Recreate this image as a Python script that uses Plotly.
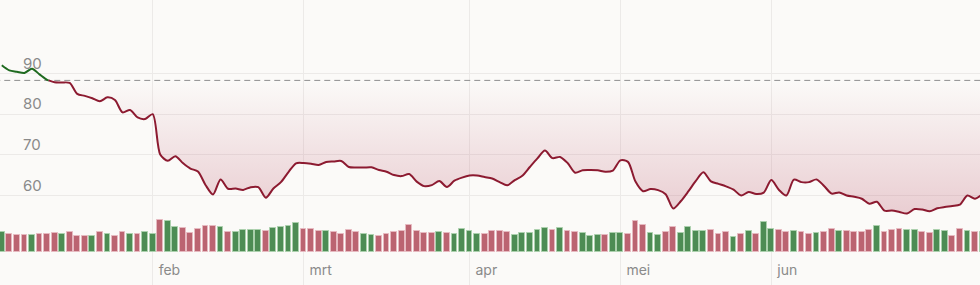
import plotly.graph_objects as go

# ---- data (trading-day index 0..130) ----
price = [
    92.0, 90.74, 90.42, 90.12, 91.16, 89.75, 88.40, 87.83, 87.78, 87.65,
    84.96, 84.49, 83.90, 83.16, 84.12, 83.46, 80.44, 81.04, 79.19, 78.81,
    80.0, 70.12, 68.57, 69.70, 68.02, 66.67, 65.93, 62.64, 60.30, 64.0,
    61.70, 61.75, 61.43, 62.10, 62.10, 59.51, 61.78, 63.33, 65.80, 67.95,
    68.02, 67.83, 67.53, 68.27, 68.40, 68.52, 67.04, 66.91, 66.91, 66.96,
    66.30, 65.88, 65.06, 64.81, 65.31, 63.46, 62.35, 62.59, 63.58, 62.15,
    63.68, 64.44, 64.94, 64.94, 64.57, 64.22, 63.33, 62.54, 63.83, 64.91,
    67.04, 69.14, 71.09, 69.21, 69.51, 68.02, 65.65, 66.25, 66.30, 66.25,
    65.88, 66.17, 68.67, 68.30, 63.46, 61.11, 61.65, 61.36, 60.37, 56.86,
    58.64, 61.04, 63.63, 65.73, 63.51, 62.91, 62.30, 61.48, 60.05, 60.91,
    60.42, 60.74, 63.83, 61.48, 60.05, 63.95, 63.33, 63.33, 64.0, 62.40,
    60.52, 60.81, 60.05, 59.73, 59.26, 58.02, 58.52, 56.35, 56.35, 56.0,
    55.63, 56.72, 56.62, 56.17, 56.91, 57.23, 57.46, 57.80, 60.05, 59.26,
    60.4,
]
volume = [
    58, 53, 51, 51, 49, 52, 53, 56, 54, 58,
    48, 46, 48, 58, 53, 48, 58, 54, 54, 58,
    53, 95, 92, 75, 72, 57, 69, 78, 78, 74,
    59, 59, 65, 65, 65, 61, 72, 73, 78, 85,
    68, 68, 62, 62, 60, 54, 65, 60, 54, 50,
    46, 54, 59, 62, 79, 61, 56, 56, 59, 56,
    52, 68, 62, 54, 53, 63, 62, 59, 51, 55,
    56, 66, 71, 64, 70, 61, 60, 57, 48, 50,
    49, 55, 55, 54, 91, 80, 56, 51, 59, 75,
    55, 75, 62, 62, 64, 54, 58, 44, 54, 61,
    54, 89, 69, 64, 59, 63, 59, 54, 56, 59,
    69, 62, 61, 58, 58, 66, 77, 59, 64, 68,
    65, 65, 59, 57, 64, 61, 47, 68, 62, 59,
    60,
]
direction = list(
    "grrrgrrrgrrrgrgrrgrg"
    "grggrrrrrgrggggrgggg"
    "rrrgrrrrggrrrrrrrrgr"
    "ggggrrrrgggggrgrrggg"
    "rggrrrggrrggggrrrgrg"
    "rggrrgrrgrrgrrrrgrrr"
    "ggrrggrrgrg"
)
month_labels = ["feb", "mrt", "apr", "mei", "jun"]
month_start_idx = [20, 40, 62, 82, 102]
y_ticks = [60, 70, 80, 90]
reference_price = 88.28

# ---- styling ----
BG = "#fbfaf8"
GRID = "#eceae8"
RED_LINE = "#8c1a30"
GREEN_LINE = "#1f6a1f"
FONT = "Inter"

x = list(range(len(price)))

# split line into part above / below reference
cross = None
for i in range(1, len(price)):
    if price[i - 1] >= reference_price > price[i]:
        f = (price[i - 1] - reference_price) / (price[i - 1] - price[i])
        cross = (i - 1 + f, i)
        break
cx, ci = cross
gx = x[:ci] + [cx]
gy = price[:ci] + [reference_price]
rx = [cx] + x[ci:]
ry = [reference_price] + price[ci:]

fill_y = [min(p, reference_price) for p in price]

fig = go.Figure()

# volume bars
bar_fill = ["#bb6471" if d == "r" else "#4d8c54" for d in direction]
bar_edge = ["#e6b9c0" if d == "r" else "#abd0ad" for d in direction]
fig.add_trace(go.Bar(
    x=x, y=volume, yaxis="y2", width=0.77,
    marker=dict(color=bar_fill, line=dict(color=bar_edge, width=1)),
    hoverinfo="skip", showlegend=False,
))

# invisible base for the fill (same x extent as the price)
fig.add_trace(go.Scatter(
    x=[x[0], x[-1]], y=[reference_price, reference_price], mode="lines",
    line=dict(width=0), hoverinfo="skip", showlegend=False,
))
# gradient fill between reference and price
fig.add_trace(go.Scatter(
    x=x, y=fill_y, mode="lines", line=dict(width=0, shape="spline", smoothing=0.8),
    fill="tonexty",
    fillgradient=dict(type="vertical", start=52, stop=reference_price,
                      colorscale=[[0, "rgba(190,95,115,0.32)"], [1, "rgba(190,95,115,0.0)"]]),
    hoverinfo="skip", showlegend=False,
))
# reference (dashed) line across the full width
fig.add_trace(go.Scatter(
    x=[-1, len(price)], y=[reference_price, reference_price], mode="lines",
    line=dict(color="#8f8f8f", width=1, dash="6px,4px"),
    hoverinfo="skip", showlegend=False,
))
fig.add_trace(go.Scatter(
    x=gx, y=gy, mode="lines", line=dict(color=GREEN_LINE, width=2, shape="spline", smoothing=0.8),
    showlegend=False,
))
fig.add_trace(go.Scatter(
    x=rx, y=ry, mode="lines", line=dict(color=RED_LINE, width=2, shape="spline", smoothing=0.8),
    showlegend=False,
))

fig.update_layout(
    width=980, height=285,
    margin=dict(l=0, r=0, t=0, b=0),
    paper_bgcolor=BG, plot_bgcolor=BG,
    font=dict(family=FONT, color="#8a8a8a", size=14),
    bargap=0,
    xaxis=dict(
        range=[-0.239, 129.67], tickvals=month_start_idx, ticktext=month_labels,
        showgrid=True, gridcolor=GRID, gridwidth=1, zeroline=False, showline=False,
        ticks="", ticklabelposition="inside right", ticklabelshift=6, ticklabelstandoff=1,
        tickfont=dict(size=14, color="#8a8a8a"),
    ),
    yaxis=dict(
        range=[38.1, 108.0], tickvals=y_ticks, showgrid=True, gridcolor=GRID, gridwidth=1,
        zeroline=False, showline=False, ticks="", ticklabelposition="inside",
        ticklabelshift=-10, ticklabelstandoff=20,
        tickfont=dict(size=15, color="#8a8a8a"),
    ),
    yaxis2=dict(
        overlaying="y", range=[-99.9, 755.1], visible=False, showgrid=False,
    ),
)

fig.write_html("out.html")
